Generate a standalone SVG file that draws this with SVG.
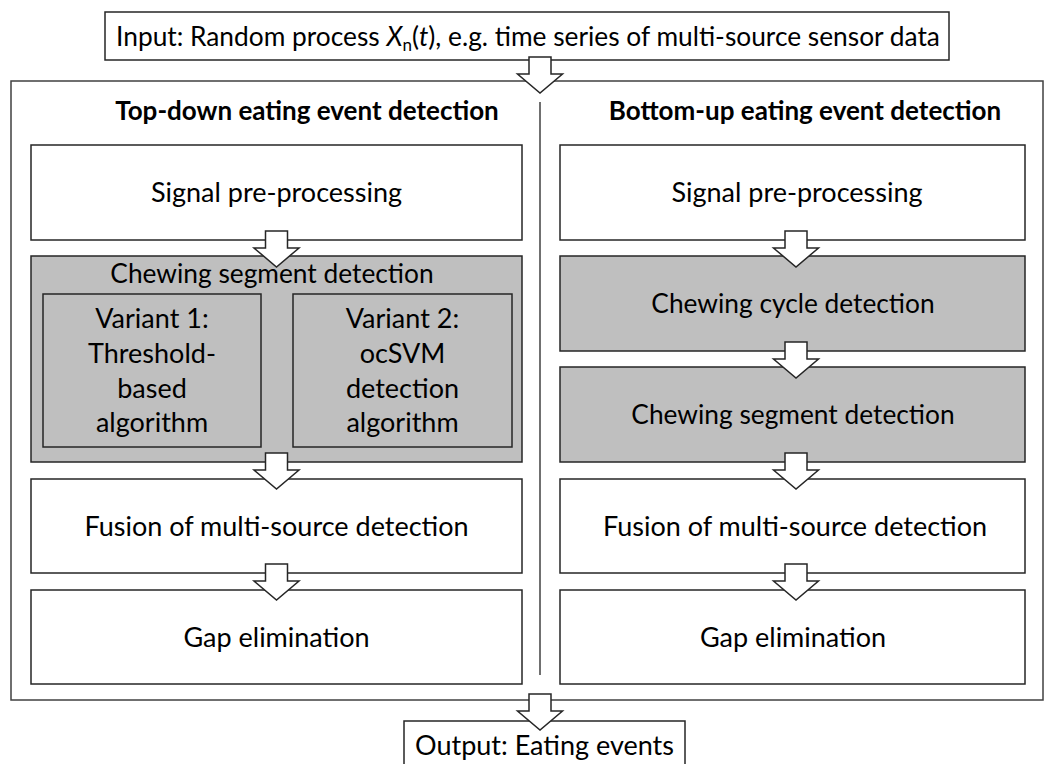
<svg xmlns="http://www.w3.org/2000/svg" width="1056" height="764" viewBox="0 0 1056 764">
<defs>
<style>
.box{fill:#ffffff;stroke:#262626;stroke-width:1.5}
.gbox{fill:#bfbfbf;stroke:#262626;stroke-width:1.5}
.outer{fill:#ffffff;stroke:#404040;stroke-width:1.5}
.arr{fill:#ffffff;stroke:#262626;stroke-width:1.5;stroke-linejoin:miter}
.t{font-family:Lato,"Open Sans",sans-serif;font-size:27px;fill:#000000;text-anchor:middle}
.tc{font-size:26.3px}
.ti{font-size:26.3px}
.tb{font-family:Lato,"Open Sans",sans-serif;font-size:26px;font-weight:bold;fill:#000000;text-anchor:middle}
</style>
</defs>
<rect width="1056" height="764" fill="#ffffff"/>
<g id="container">
<rect class="outer" x="11" y="81" width="1032" height="619"/>
<line x1="540" y1="102" x2="540" y2="675" stroke="#404040" stroke-width="1.5"/>
<text class="tb" x="307" y="120">Top-down eating event detection</text>
<text class="tb" x="805" y="120">Bottom-up eating event detection</text>
</g>
<g id="input">
<rect class="box" x="105" y="12" width="844" height="48"/>
<text class="t ti" x="528" y="46">Input: Random process <tspan font-style="italic">X</tspan><tspan style="font-size:17px" dy="5">n</tspan><tspan dy="-5">(</tspan><tspan font-style="italic">t</tspan>), e.g. time series of multi-source sensor data</text>
</g>
<g id="td-signal">
<rect class="box" x="31" y="145" width="491" height="95"/>
<text class="t" x="276.5" y="202">Signal pre-processing</text>
</g>
<g id="td-chewing-segment">
<rect class="gbox" x="31" y="256" width="491" height="206"/>
<text class="t tc" x="272" y="283">Chewing segment detection</text>
</g>
<g id="td-variant1">
<rect class="gbox" x="43" y="294" width="218" height="153"/>
<text class="t" x="152" y="328">Variant 1:</text>
<text class="t" x="152" y="363">Threshold-</text>
<text class="t" x="152" y="398">based</text>
<text class="t" x="152" y="432">algorithm</text>
</g>
<g id="td-variant2">
<rect class="gbox" x="293" y="294" width="219" height="153"/>
<text class="t" x="402.5" y="328">Variant 2:</text>
<text class="t" x="402.5" y="363">ocSVM</text>
<text class="t" x="402.5" y="398">detection</text>
<text class="t" x="402.5" y="432">algorithm</text>
</g>
<g id="td-fusion">
<rect class="box" x="31" y="479" width="491" height="94"/>
<text class="t" x="276.5" y="536">Fusion of multi-source detection</text>
</g>
<g id="td-gap">
<rect class="box" x="31" y="590" width="491" height="94"/>
<text class="t" x="276.5" y="647">Gap elimination</text>
</g>
<g id="bu-signal">
<rect class="box" x="560" y="145" width="465" height="95"/>
<text class="t" x="797" y="202">Signal pre-processing</text>
</g>
<g id="bu-cycle">
<rect class="gbox" x="560" y="256" width="465" height="95"/>
<text class="t tc" x="793" y="313">Chewing cycle detection</text>
</g>
<g id="bu-segment">
<rect class="gbox" x="560" y="367" width="465" height="95"/>
<text class="t tc" x="793" y="424">Chewing segment detection</text>
</g>
<g id="bu-fusion">
<rect class="box" x="560" y="479" width="465" height="94"/>
<text class="t" x="795" y="536">Fusion of multi-source detection</text>
</g>
<g id="bu-gap">
<rect class="box" x="560" y="590" width="465" height="94"/>
<text class="t" x="793" y="647">Gap elimination</text>
</g>
<g id="output">
<rect class="box" x="404" y="721" width="281" height="60"/>
<text class="t" x="544.5" y="755">Output: Eating events</text>
</g>
<g id="connectors">
<polygon class="arr" points="529,57 551,57 551,74 562.5,74 540,93 517.5,74 529,74"/>
<polygon class="arr" points="265.5,231 287.5,231 287.5,248 299,248 276.5,267 254,248 265.5,248"/>
<polygon class="arr" points="265.5,453 287.5,453 287.5,470 299,470 276.5,489 254,470 265.5,470"/>
<polygon class="arr" points="265.5,564 287.5,564 287.5,581 299,581 276.5,600 254,581 265.5,581"/>
<polygon class="arr" points="785,231 807,231 807,248 818.5,248 796,267 773.5,248 785,248"/>
<polygon class="arr" points="785,342 807,342 807,359 818.5,359 796,378 773.5,359 785,359"/>
<polygon class="arr" points="785,453 807,453 807,470 818.5,470 796,489 773.5,470 785,470"/>
<polygon class="arr" points="785,564 807,564 807,581 818.5,581 796,600 773.5,581 785,581"/>
<polygon class="arr" points="529,694 551,694 551,711 562.5,711 540,730 517.5,711 529,711"/>
</g>
</svg>
